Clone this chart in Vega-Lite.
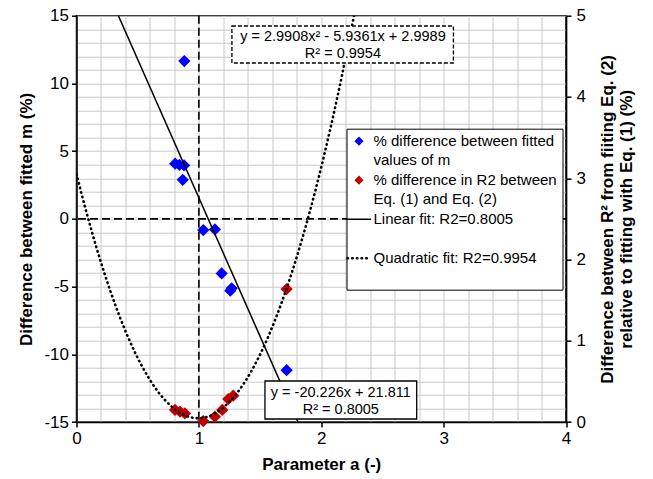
{
  "$schema": "https://vega.github.io/schema/vega-lite/v6.json",
  "width": 489.5,
  "height": 406.3,
  "autosize": {"type": "none"},
  "padding": {"left": 76.5, "top": 15.7, "right": 87, "bottom": 57},
  "background": "white",
  "config": {
    "font": "Liberation Sans",
    "view": {"stroke": "#000", "strokeWidth": 1.5, "fill": "white"},
    "axis": {
      "labelFont": "Liberation Sans", "labelFontSize": 17, "labelColor": "#000", "labelOverlap": false,
      "titleFont": "Liberation Sans", "titleFontSize": 17, "titleFontWeight": "bold", "titleColor": "#000",
      "domainColor": "#000", "domainWidth": 1.5, "tickColor": "#000", "tickWidth": 1.5, "tickSize": 5,
      "gridColor": "#c8c8c8", "gridWidth": 1
    }
  },
  "datasets": {
    "blue": [
      {"a": 0.806, "m": 4.07, "series": "m"}, {"a": 0.841, "m": 3.99, "series": "m"}, {"a": 0.879, "m": 3.94, "series": "m"},
      {"a": 0.868, "m": 2.88, "series": "m"}, {"a": 0.881, "m": 11.65, "series": "m"}, {"a": 1.036, "m": -0.83, "series": "m"},
      {"a": 1.131, "m": -0.78, "series": "m"}, {"a": 1.186, "m": -4.03, "series": "m"}, {"a": 1.268, "m": -5.13, "series": "m"},
      {"a": 1.257, "m": -5.30, "series": "m"}, {"a": 1.717, "m": -11.17, "series": "m"}
    ],
    "red": [
      {"a": 0.805, "r2": 0.148, "series": "r2"}, {"a": 0.846, "r2": 0.127, "series": "r2"}, {"a": 0.886, "r2": 0.105, "series": "r2"},
      {"a": 1.036, "r2": 0.012, "series": "r2"}, {"a": 1.131, "r2": 0.065, "series": "r2"}, {"a": 1.191, "r2": 0.148, "series": "r2"},
      {"a": 1.240, "r2": 0.283, "series": "r2"}, {"a": 1.281, "r2": 0.324, "series": "r2"}, {"a": 1.717, "r2": 1.636, "series": "r2"}
    ]
  },
  "layer": [
    {
      "layer": [
        {
          "data": {"name": "blue"},
          "mark": {"type": "point", "shape": "diamond", "filled": true, "size": 150, "opacity": 1},
          "encoding": {
            "x": {
              "field": "a", "type": "quantitative",
              "scale": {"domain": [0, 4], "nice": false, "zero": false},
              "axis": {
                "title": "Parameter a (-)",
                "values": [0, 0.2, 0.4, 0.6, 0.8, 1, 1.2, 1.4, 1.6, 1.8, 2, 2.2, 2.4, 2.6, 2.8, 3, 3.2, 3.4, 3.6, 3.8, 4],
                "tickCount": 200,
                "labelExpr": "datum.value % 1 == 0 ? '' + datum.value : ''",
                "tickOpacity": {"condition": {"test": "datum.value % 1 == 0", "value": 1}, "value": 0},
                "labelOverlap": false, "labelFlush": false, "labelPadding": 3, "titlePadding": 10
              }
            },
            "y": {
              "field": "m", "type": "quantitative",
              "scale": {"domain": [-15, 15], "nice": false, "zero": false},
              "axis": {
                "title": "Difference between fitted m (%)",
                "orient": "left",
                "values": [-15, -14, -13, -12, -11, -10, -9, -8, -7, -6, -5, -4, -3, -2, -1, 0, 1, 2, 3, 4, 5, 6, 7, 8, 9, 10, 11, 12, 13, 14, 15],
                "tickCount": 200,
                "labelExpr": "datum.value % 5 == 0 ? '' + datum.value : ''",
                "tickOpacity": {"condition": {"test": "datum.value % 5 == 0", "value": 1}, "value": 0},
                "labelOverlap": false, "labelFlush": false, "labelPadding": 3, "titlePadding": 8
              }
            },
            "color": {
              "field": "series",
              "type": "nominal",
              "scale": {
                "domain": ["m", "r2", "lin", "quad"],
                "range": ["#0000ff", "#c00000", "#000000", "#000000"]
              },
              "legend": {
                "title": null, "orient": "none", "legendX": 270, "legendY": 113,
                "fillColor": "white", "strokeColor": "#000", "padding": 5,
                "labelFont": "Liberation Sans", "labelFontSize": 15, "labelColor": "#000",
                "labelLimit": 400, "labelOffset": 7, "symbolSize": 530, "symbolOpacity": 1, "rowPadding": 5,
                "labelExpr": "datum.label == 'm' ? ['% difference between fitted', 'values of m'] : datum.label == 'r2' ? ['% difference in R2 between', 'Eq. (1) and Eq. (2)'] : datum.label == 'lin' ? ['Linear fit: R2=0.8005', ' '] : ['Quadratic fit: R2=0.9954', ' ']",
                "encode": {
                  "labels": {"update": {"lineHeight": {"value": 18.5}}},
                  "symbols": {"update": {
                    "shape": {"signal": "datum.value == 'lin' || datum.value == 'quad' ? 'stroke' : 'diamond'"},
                    "size": {"signal": "datum.value == 'lin' || datum.value == 'quad' ? 530 : 50"},
                    "stroke": {"signal": "datum.value == 'lin' || datum.value == 'quad' ? '#000000' : 'transparent'"},
                    "strokeWidth": {"signal": "datum.value == 'quad' ? 2.6 : 1.5"},
                    "strokeDash": {"signal": "datum.value == 'quad' ? [0.5, 4.2] : [1, 0]"},
                    "strokeCap": {"value": "round"}
                  }}
                }
              }
            }
          }
        },
        {
          "data": {"values": [{}]},
          "mark": {"type": "rule", "color": "#000", "strokeWidth": 1.6, "strokeDash": [8, 4]},
          "encoding": {"x": {"datum": 1, "type": "quantitative"}}
        },
        {
          "data": {"values": [{}]},
          "mark": {"type": "rule", "color": "#000", "strokeWidth": 1.6, "strokeDash": [8, 4]},
          "encoding": {"y": {"datum": 0, "type": "quantitative"}}
        },
        {
          "data": {"name": "blue"},
          "transform": [{"regression": "m", "on": "a", "extent": [0, 4]}],
          "mark": {"type": "line", "strokeWidth": 1.5, "clip": true},
          "encoding": {
            "x": {"field": "a", "type": "quantitative"},
            "y": {"field": "m", "type": "quantitative"},
            "color": {"datum": "lin", "type": "nominal"}
          }
        }
      ]
    },
    {
      "layer": [
        {
          "data": {"name": "red"},
          "mark": {"type": "point", "shape": "diamond", "filled": true, "size": 150, "opacity": 1},
          "encoding": {
            "x": {"field": "a", "type": "quantitative"},
            "y": {
              "field": "r2", "type": "quantitative",
              "scale": {"domain": [0, 5], "nice": false, "zero": false},
              "axis": {
                "orient": "right",
                "title": ["Difference between R² from fiiting Eq. (2)", "relative to fitting with Eq. (1) (%)"],
                "titleAngle": -90,
                "values": [0, 1, 2, 3, 4, 5],
                "format": "d",
                "labelPadding": 5, "titlePadding": 12, "gridOpacity": 0
              }
            },
            "color": {"field": "series", "type": "nominal"}
          }
        },
        {
          "data": {"name": "red"},
          "transform": [{"regression": "r2", "on": "a", "method": "poly", "order": 2, "extent": [0, 4]}],
          "mark": {"type": "line", "strokeWidth": 2.6, "strokeDash": [0.5, 4.2], "strokeCap": "round", "clip": true},
          "encoding": {
            "x": {"field": "a", "type": "quantitative"},
            "y": {"field": "r2", "type": "quantitative"},
            "color": {"datum": "quad", "type": "nominal"}
          }
        },
        {
          "data": {"values": [{}]},
          "mark": {"type": "rect", "fill": "white", "stroke": "#000", "strokeWidth": 1.3, "strokeDash": [4, 2]},
          "encoding": {
            "x": {"datum": 1.27, "type": "quantitative"},
            "x2": {"datum": 3.08},
            "y": {"datum": 4.873, "type": "quantitative"},
            "y2": {"datum": 4.418}
          }
        },
        {
          "data": {"values": [{}]},
          "mark": {"type": "text", "text": ["y = 2.9908x² - 5.9361x + 2.9989", "R² = 0.9954"], "fontSize": 14.5, "lineHeight": 17, "baseline": "middle", "align": "center", "color": "#000"},
          "encoding": {
            "x": {"datum": 2.177, "type": "quantitative"},
            "y": {"datum": 4.738, "type": "quantitative"}
          }
        },
        {
          "data": {"values": [{}]},
          "mark": {"type": "rect", "fill": "white", "stroke": "#000", "strokeWidth": 1.3},
          "encoding": {
            "x": {"datum": 1.54, "type": "quantitative"},
            "x2": {"datum": 2.78},
            "y": {"datum": 0.5046, "type": "quantitative"},
            "y2": {"datum": 0.037}
          }
        },
        {
          "data": {"values": [{}]},
          "mark": {"type": "text", "text": ["y = -20.226x + 21.811", "R² = 0.8005"], "fontSize": 14.5, "lineHeight": 17, "baseline": "middle", "align": "center", "color": "#000"},
          "encoding": {
            "x": {"datum": 2.16, "type": "quantitative"},
            "y": {"datum": 0.357, "type": "quantitative"}
          }
        }
      ]
    }
  ],
  "resolve": {"scale": {"y": "independent"}}
}
